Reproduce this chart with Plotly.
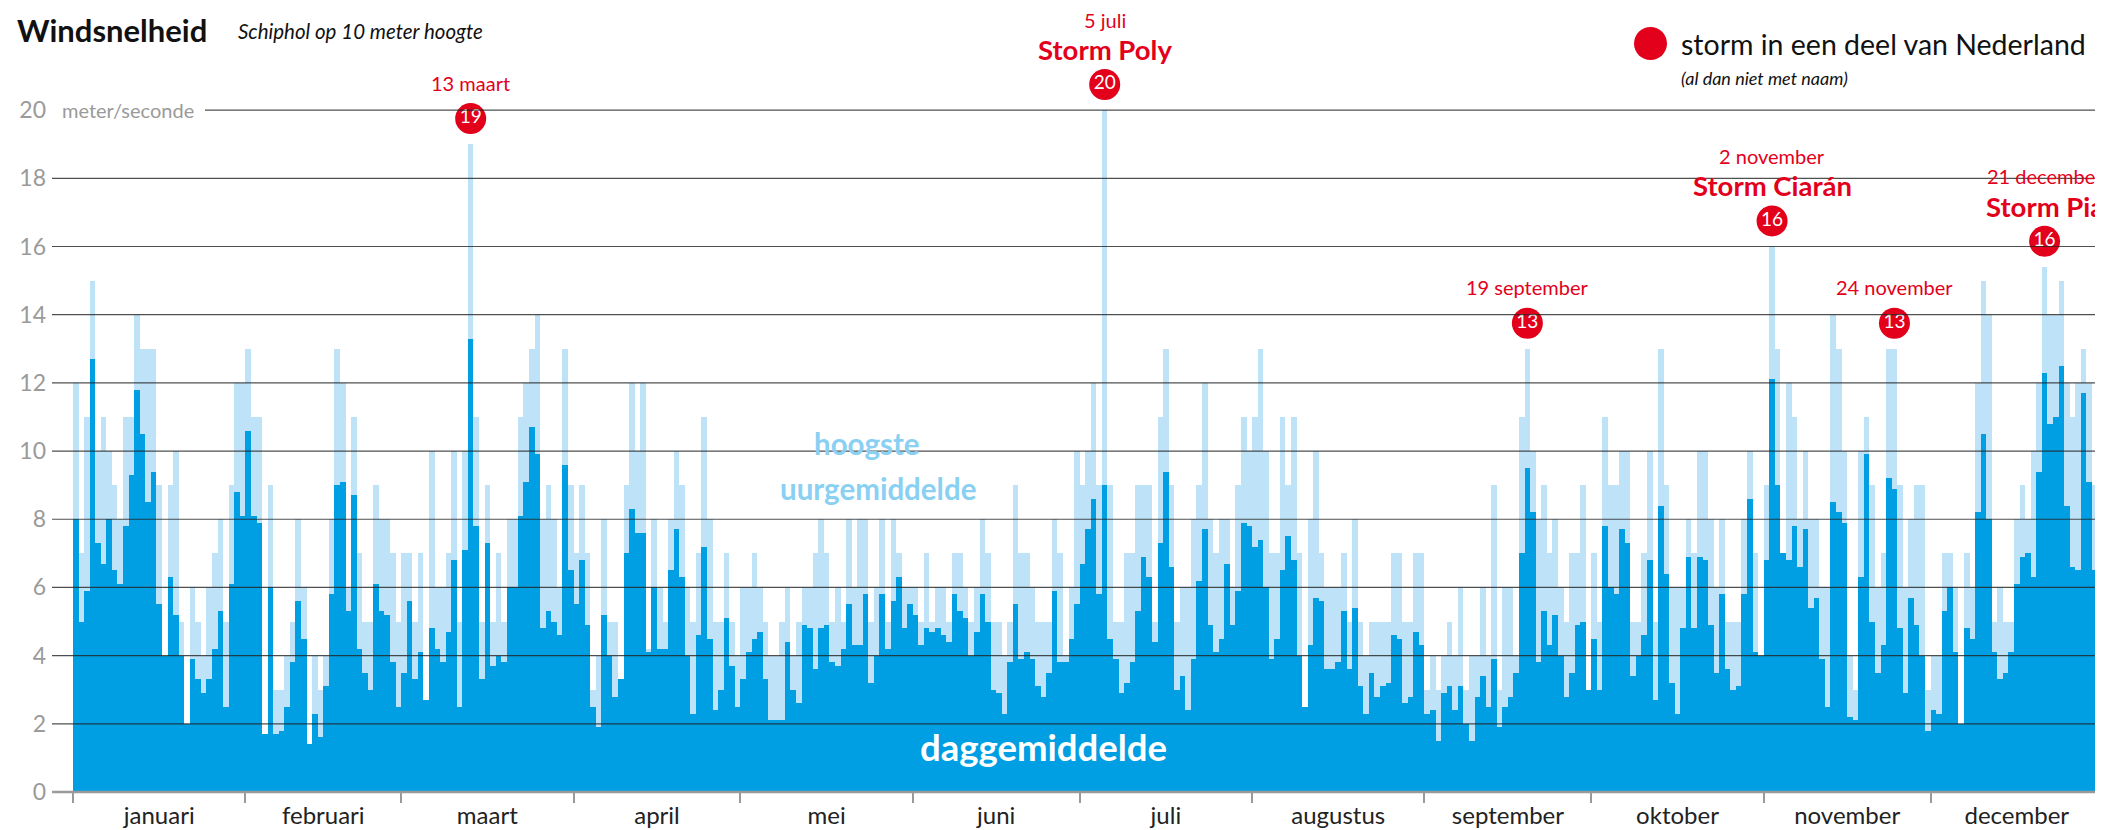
import plotly.graph_objects as go

# ---------------- data (m/s, Schiphol 2023) ----------------
daily_mean = [
    8.0, 5.0, 5.9, 12.7, 7.3, 6.7, 8.0, 6.5, 6.1, 7.8,
    9.3, 11.8, 10.5, 8.5, 9.4, 5.5, 4.0, 6.3, 5.2, 4.0,
    2.0, 3.9, 3.3, 2.9, 3.3, 4.2, 5.3, 2.5, 6.1, 8.8,
    8.1, 10.6, 8.1, 7.9, 1.7, 6.0, 1.7, 1.8, 2.5, 3.8,
    5.6, 4.5, 1.4, 2.3, 1.6, 3.1, 5.8, 9.0, 9.1, 5.3,
    8.7, 4.2, 3.5, 3.0, 6.1, 5.3, 5.2, 3.8, 2.5, 3.5,
    5.6, 3.3, 4.1, 2.7, 4.8, 4.2, 3.8, 4.7, 6.8, 2.5,
    7.1, 13.3, 7.8, 3.3, 7.3, 3.7, 4.0, 3.8, 6.0, 6.0,
    8.1, 9.1, 10.7, 9.9, 4.8, 5.3, 5.0, 4.6, 9.6, 6.5,
    5.5, 6.8, 4.9, 2.5, 1.9, 5.2, 4.0, 2.8, 3.3, 7.0,
    8.3, 7.6, 7.6, 4.1, 6.0, 4.2, 4.2, 6.5, 7.7, 6.3,
    4.0, 2.3, 4.6, 7.2, 4.5, 2.4, 3.0, 5.1, 3.7, 2.5,
    3.3, 4.1, 4.5, 4.7, 3.3, 2.1, 2.1, 2.1, 4.4, 3.0,
    2.6, 4.9, 4.8, 3.6, 4.8, 4.9, 3.8, 3.7, 4.2, 5.5,
    4.3, 4.3, 5.8, 3.2, 4.0, 5.8, 4.2, 5.6, 6.3, 4.8,
    5.5, 5.2, 4.3, 4.8, 4.7, 4.8, 4.6, 4.4, 5.8, 5.3,
    5.1, 4.0, 4.7, 5.8, 5.0, 3.0, 2.9, 2.3, 3.8, 5.5,
    3.9, 4.1, 3.9, 3.1, 2.8, 3.5, 5.9, 3.8, 3.8, 4.5,
    5.5, 6.7, 7.7, 8.6, 5.8, 9.0, 4.5, 3.9, 2.9, 3.2,
    3.8, 5.3, 6.9, 6.3, 4.4, 7.3, 9.4, 6.6, 3.0, 3.4,
    2.4, 3.9, 6.2, 7.7, 4.9, 4.1, 4.5, 6.7, 4.9, 5.9,
    7.9, 7.8, 7.2, 7.4, 6.0, 3.9, 4.5, 6.5, 7.5, 6.8,
    4.0, 2.5, 4.3, 5.7, 5.6, 3.6, 3.6, 3.8, 5.3, 3.6,
    5.4, 3.1, 2.3, 3.5, 2.8, 3.1, 3.2, 4.6, 4.5, 2.6,
    2.8, 4.7, 4.3, 2.3, 2.4, 1.5, 2.9, 3.1, 2.4, 3.1,
    2.0, 1.5, 2.8, 3.4, 2.5, 3.9, 1.9, 2.5, 2.8, 3.5,
    7.0, 9.5, 8.2, 3.8, 5.3, 4.3, 5.2, 4.0, 2.8, 3.5,
    4.9, 5.0, 3.0, 4.5, 3.0, 7.8, 6.0, 5.8, 7.7, 7.3,
    3.4, 4.0, 4.6, 6.8, 2.7, 8.4, 6.4, 3.2, 2.3, 4.8,
    6.9, 4.8, 6.9, 6.8, 4.9, 3.5, 5.8, 3.6, 3.0, 3.1,
    5.8, 8.6, 4.1, 4.0, 6.8, 12.1, 9.0, 7.0, 6.8, 7.8,
    6.6, 7.7, 5.4, 5.7, 3.9, 2.5, 8.5, 8.2, 7.9, 2.2,
    2.1, 6.3, 9.9, 5.0, 3.5, 4.3, 9.2, 8.9, 4.8, 2.9,
    5.7, 4.9, 4.0, 1.8, 2.4, 2.3, 5.3, 6.0, 4.1, 2.0,
    4.8, 4.5, 8.2, 10.5, 8.0, 4.1, 3.3, 3.5, 4.1, 6.1,
    6.9, 7.0, 6.3, 9.4, 12.3, 10.8, 11.0, 12.5, 8.4, 6.6,
    6.5, 11.7, 9.1, 6.5, 9.5,
]

max_hourly = [
    12, 7, 11, 15, 10, 11, 10, 9, 8, 11,
    11, 14, 13, 13, 13, 9, 4, 9, 10, 5,
    2, 6, 5, 4, 6, 7, 8, 5, 9, 12,
    12, 13, 11, 11, 1.7, 9, 3, 3, 4, 5,
    8, 6, 1.4, 4, 3, 4, 8, 13, 12, 6,
    11, 7, 5, 5, 9, 8, 8, 7, 5, 7,
    7, 5, 7, 2.7, 10, 6, 6, 7, 10, 5,
    10, 19, 11, 5, 9, 5, 7, 5, 8, 8,
    11, 12, 13, 14, 8, 9, 8, 6, 13, 9,
    7, 9, 7, 3, 4, 8, 5, 5, 3.3, 9,
    12, 10, 12, 4.2, 8, 6, 5, 8, 10, 9,
    6, 5, 7, 11, 8, 5, 5, 7, 5, 4,
    6, 6, 7, 6, 5, 4, 4, 5, 6, 4,
    5, 6, 6, 7, 8, 7, 5, 6, 5, 8,
    6, 8, 8, 5, 6, 8, 5, 8, 7, 6,
    6, 6, 5, 7, 5, 6, 6, 5, 7, 7,
    6, 5, 6, 8, 7, 5, 5, 4, 5, 9,
    7, 7, 6, 5, 5, 5, 8, 7, 4, 6,
    10, 9, 10, 12, 9, 20, 9, 5, 5, 7,
    7, 9, 9, 9, 5, 11, 13, 9, 5, 6,
    6, 8, 9, 12, 8, 7, 8, 8, 6, 9,
    11, 10, 11, 13, 10, 7, 7, 11, 9, 11,
    7, 2.5, 8, 10, 7, 6, 6, 6, 7, 5,
    8, 5, 4, 5, 5, 5, 5, 7, 7, 5,
    5, 7, 7, 3, 4, 3, 4, 5, 4, 6,
    3, 4, 4, 6, 4, 9, 3, 6, 6, 4,
    11, 13, 10, 8, 9, 7, 8, 6, 5, 7,
    7, 9, 3, 7, 5, 11, 9, 9, 10, 10,
    5, 5, 7, 10, 5, 13, 9, 6, 6, 6,
    8, 7, 10, 10, 8, 6, 8, 5, 5, 5,
    8, 10, 7, 4, 9, 16, 13, 7, 12, 11,
    8, 10, 8, 8, 6, 6, 14, 13, 10, 4,
    3, 10, 11, 9, 6, 7, 13, 13, 9, 6,
    8, 9, 9, 3, 4, 4, 7, 7, 6, 2,
    7, 6, 12, 15, 14, 5, 6, 5, 5, 8,
    9, 8, 10, 12, 15.4, 14, 14, 15, 12, 11,
    12, 13, 12, 9, 11,
]

months = ["januari", "februari", "maart", "april", "mei", "juni",
          "juli", "augustus", "september", "oktober", "november", "december"]
month_lengths = [31, 28, 31, 30, 31, 30, 31, 31, 30, 31, 30, 31]

storm_days = [71, 185, 261, 305, 327, 354]
storm_values = [19, 20, 13, 16, 13, 16]
storm_dates = ["13 maart", "5 juli", "19 september", "2 november", "24 november", "21 december"]
storm_names = ["", "Storm Poly", "", "Storm Ciarán", "", "Storm Pia"]

y_ticks = [0, 2, 4, 6, 8, 10, 12, 14, 16, 18, 20]

# ---------------- geometry helpers ----------------
# the page body adds an 8px margin, so the figure is drawn 8px smaller/offset
OFF = 8
W, H = 2103 - OFF, 830 - OFF
L, R, T, B = 73 - OFF, 0, 76 - OFF, 38
PW, PH = W - L - R, H - T - B
YMAX = 21
FONT = "Lato, 'Noto Sans', sans-serif"

DARK = "#009fe3"
LIGHT = "#bee3f8"
RED = "#e3001b"


def px(x):
    """page pixel x -> paper x"""
    return (x - OFF - L) / PW


def py(y):
    """page pixel y -> paper y"""
    return (H - B - (y - OFF)) / PH


days = list(range(len(daily_mean)))

bounds = [-0.5]
for n in month_lengths:
    bounds.append(bounds[-1] + n)
centers = [(bounds[i] + bounds[i + 1]) / 2 for i in range(12)]

fig = go.Figure()
fig.add_trace(go.Bar(x=days, y=max_hourly, marker=dict(color=LIGHT, line=dict(width=0)),
                     name="hoogste uurgemiddelde", showlegend=False, hoverinfo="skip"))
fig.add_trace(go.Bar(x=days, y=daily_mean, marker=dict(color=DARK, line=dict(width=0)),
                     name="daggemiddelde", showlegend=False, hoverinfo="skip"))

storm_y = [max_hourly[d] + 0.75 for d in storm_days]
fig.add_trace(go.Scatter(
    x=storm_days, y=storm_y, mode="markers+text",
    marker=dict(size=31, color=RED, line=dict(width=0)),
    text=[str(v) for v in storm_values],
    textposition="middle center",
    textfont=dict(color="white", size=19, family=FONT),
    cliponaxis=False, showlegend=False, hoverinfo="skip"))

shapes = []
for v in y_ticks:
    if v == 0:
        shapes.append(dict(type="line", xref="paper", yref="paper",
                           x0=px(52), x1=1, y0=0, y1=0, layer="above",
                           line=dict(color="#9a9a9a", width=2.5)))
    else:
        shapes.append(dict(type="line", xref="paper", yref="paper",
                           x0=px(205) if v == 20 else px(52), x1=1,
                           y0=v / YMAX, y1=v / YMAX, layer="above",
                           line=dict(color="rgba(35,35,35,0.8)", width=1.2)))
# legend dot
shapes.append(dict(type="circle", xref="paper", yref="paper",
                   x0=px(1634), x1=px(1667), y0=py(60), y1=py(27),
                   fillcolor=RED, line=dict(width=0)))

ann = []


def add_text(text, xpage, ypage, size, color, anchor="left"):
    ann.append(dict(text=text, x=px(xpage), y=py(ypage), xref="paper", yref="paper",
                    xanchor=anchor, yanchor="middle", showarrow=False,
                    font=dict(size=size, color=color, family=FONT)))


add_text("<b>Windsnelheid</b>", 15, 30, 31, "#111")
add_text("<i>Schiphol op 10 meter hoogte</i>", 236, 31, 20.5, "#111")
add_text("meter/seconde", 60, 110, 20, "#9a9a9a")
add_text("storm in een deel van Nederland", 1679, 44, 28.5, "#111")
add_text("<i>(al dan niet met naam)</i>", 1679, 78, 18, "#111")
add_text("<b>hoogste</b>", 867, 443, 29.5, "#8ad0f3", "center")
add_text("<b>uurgemiddelde</b>", 878, 488, 29.5, "#8ad0f3", "center")
add_text("<b>daggemiddelde</b>", 1043, 747, 36.5, "white", "center")

for d, yv, date, name in zip(storm_days, storm_y, storm_dates, storm_names):
    if name:
        ann.append(dict(text="<b>" + name + "</b>", x=d, y=yv, xref="x", yref="y",
                        yshift=35, xanchor="center", yanchor="middle", showarrow=False,
                        font=dict(size=27.5, color=RED, family=FONT)))
        ann.append(dict(text=date, x=d, y=yv, xref="x", yref="y", yshift=65,
                        xanchor="center", yanchor="middle", showarrow=False,
                        font=dict(size=20, color=RED, family=FONT)))
    else:
        ann.append(dict(text=date, x=d, y=yv, xref="x", yref="y", yshift=36,
                        xanchor="center", yanchor="middle", showarrow=False,
                        font=dict(size=20, color=RED, family=FONT)))

fig.update_layout(
    width=W, height=H,
    margin=dict(l=L, r=R, t=T, b=B, pad=0),
    paper_bgcolor="white", plot_bgcolor="white",
    barmode="overlay", bargap=0,
    font=dict(family=FONT),
    shapes=shapes, annotations=ann,
    xaxis=dict(range=[-0.5, 364.5], tickmode="array", tickvals=centers, ticktext=months,
               ticks="", showgrid=False, zeroline=False, showline=False, automargin=False,
               tickfont=dict(size=24, color="#222", family=FONT), ticklabelstandoff=7,
               minor=dict(tickmode="array", tickvals=bounds, ticks="outside", ticklen=10,
                          tickwidth=2, tickcolor="#9a9a9a", showgrid=False)),
    yaxis=dict(range=[0, YMAX], tickmode="array", tickvals=y_ticks,
               ticktext=[str(v) for v in y_ticks], ticks="", showgrid=False, automargin=False,
               zeroline=False, showline=False, ticklabelstandoff=26,
               tickfont=dict(size=23, color="#9a9a9a", family=FONT)),
)

fig.write_html("out.html")
